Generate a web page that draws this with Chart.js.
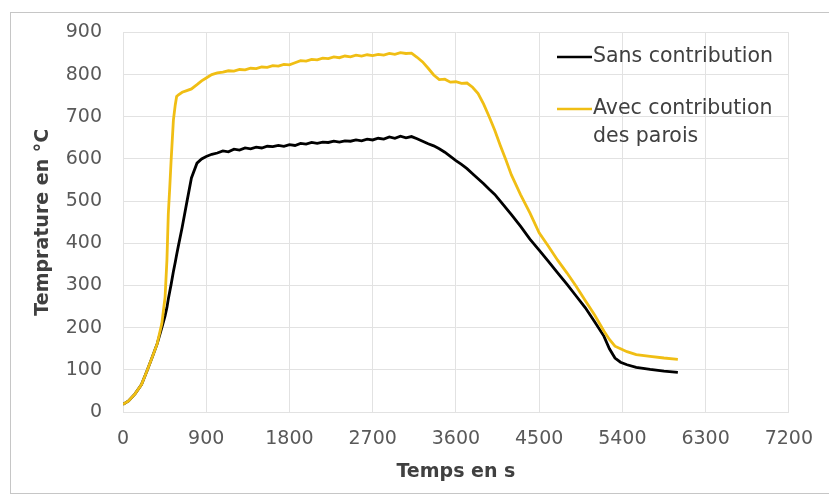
<!DOCTYPE html>
<html>
<head>
<meta charset="utf-8">
<script src="https://cdn.jsdelivr.net/npm/chart.js@4.4.1/dist/chart.umd.min.js"></script>
<style>
  html, body { margin: 0; padding: 0; background: #fff; }
  #wrap { position: relative; width: 829px; height: 497px; overflow: hidden; }
  #frame { position: absolute; left: 10px; top: 12px; width: 840px; height: 480px; border: 1px solid #c6c6c6; }
  #graph { position: absolute; left: 0; top: 0; }
</style>
</head>
<body>
<div id="wrap">
  <div id="frame"></div>
  <canvas id="graph" width="829" height="497"></canvas>
</div>
<script>
// time in s
const temps = [
  0, 60, 130, 200, 260, 320, 370, 420, 455, 475, 490, 505, 520, 545, 565, 580, 600, 640, 690, 740, 800, 850, 900,
  960, 1020, 1080, 1140, 1200, 1260, 1320, 1380, 1440, 1500, 1560, 1620, 1680, 1740, 1800,
  1860, 1920, 1980, 2040, 2100, 2160, 2220, 2280, 2340, 2400, 2460, 2520, 2580, 2640, 2700,
  2760, 2820, 2880, 2940, 3000, 3060, 3120, 3180, 3240, 3300, 3360, 3420, 3480, 3540, 3600,
  3660, 3720, 3780, 3840, 3900, 3960, 4020, 4080, 4140, 4200,
  4300, 4400, 4500, 4600, 4700, 4800, 4900, 5000, 5100, 5200,
  5260, 5320, 5380, 5450, 5550, 5700, 5850, 6000
];

// temperature in °C, without wall contribution
const sansContribution = [
  18, 26, 43, 65, 98, 132, 162, 200, 228, 248, 268, 285, 302, 333, 355, 373, 395, 438, 497, 555, 590, 600, 606,
  611, 614, 619, 617, 623, 621, 626, 624, 628, 626, 630, 629, 632, 630, 634,
  632, 637, 635, 639, 637, 640, 639, 642, 640, 643, 642, 645, 643, 647, 645,
  649, 647, 652, 649, 654, 650, 653, 648, 642, 636, 631, 624, 616, 606, 596,
  587, 577, 565, 553, 541, 528, 516, 500, 484, 468,
  440, 410, 384, 357, 330, 303, 275, 247, 214, 180,
  150, 128, 118, 112, 106, 101, 97, 94
];

// temperature in °C, with wall contribution
const avecContribution = [
  18, 26, 43, 65, 98, 132, 162, 210, 272, 360, 470, 530, 595, 692, 728, 748, 752, 758, 762, 766, 776, 785, 792,
  800, 804, 806, 809, 808, 812, 811, 815, 814, 818, 817, 821, 820, 824, 823,
  828, 833, 832, 836, 835, 839, 838, 842, 840, 844, 842, 846, 844, 847, 845,
  848, 846, 850, 848, 852, 850, 851, 841, 830, 815, 799, 788, 789, 782, 783,
  779, 780, 770, 755, 730, 700, 668, 632, 598, 562,
  515, 472, 425, 393, 360, 330, 298, 264, 230, 192,
  172, 156, 150, 143, 136, 132, 128, 125
];

const xTicks = [0, 900, 1800, 2700, 3600, 4500, 5400, 6300, 7200];
const yTicks = [0, 100, 200, 300, 400, 500, 600, 700, 800, 900];

const toPoints = vals => temps.map((t, i) => ({ x: t, y: vals[i] }));

const tickFont = { family: 'DejaVu Sans', size: 19 };
const titleFont = { family: 'DejaVu Sans', size: 19, weight: 'bold' };
const gridColor = '#e2e2e2';

// legend drawn inside the plot, labels may span several lines
const legendBox = {
  id: 'legendBox',
  afterDraw(chart, args, opts) {
    const ctx = chart.ctx;
    ctx.save();
    ctx.font = opts.font;
    ctx.textBaseline = 'middle';
    ctx.textAlign = 'left';
    ctx.fillStyle = opts.color;
    chart.data.datasets.forEach((ds, i) => {
      const y = opts.top + i * opts.itemGap;
      ctx.strokeStyle = ds.borderColor;
      ctx.lineWidth = 2.5;
      ctx.beginPath();
      ctx.moveTo(opts.left, y);
      ctx.lineTo(opts.left + opts.lineLen, y);
      ctx.stroke();
      [].concat(ds.label).forEach((line, k) => {
        ctx.fillText(line, opts.left + opts.lineLen + 1, y + k * opts.lineHeight);
      });
    });
    ctx.restore();
  }
};

const ctx = document.getElementById('graph').getContext('2d');

new Chart(ctx, {
  type: 'line',
  data: {
    datasets: [
      {
        label: 'Sans contribution',
        data: toPoints(sansContribution),
        borderColor: '#000000',
        borderWidth: 2.8,
        pointRadius: 0,
        tension: 0,
        order: 1
      },
      {
        label: ['Avec contribution', 'des parois'],
        data: toPoints(avecContribution),
        borderColor: '#f0be14',
        borderWidth: 2.8,
        pointRadius: 0,
        tension: 0,
        order: 0
      }
    ]
  },
  options: {
    responsive: false,
    animation: false,
    devicePixelRatio: 1,
    layout: { padding: { left: 0, right: 40, top: 32, bottom: 0 } },
    plugins: {
      legend: { display: false },
      tooltip: { enabled: false },
      legendBox: {
        left: 557, top: 57, itemGap: 52, lineLen: 35, lineHeight: 28,
        font: '20.5px "DejaVu Sans"', color: '#404040'
      }
    },
    scales: {
      x: {
        type: 'linear',
        min: 0,
        max: 7200,
        afterBuildTicks: s => { s.ticks = xTicks.map(v => ({ value: v })); },
        afterFit: s => { s.height = 85; },
        ticks: { font: tickFont, color: '#595959', padding: 16, maxRotation: 0, callback: v => String(v) },
        grid: { color: gridColor, drawTicks: false },
        border: { color: gridColor },
        title: { display: true, text: 'Temps en s', font: titleFont, color: '#404040', padding: { top: 0, bottom: 14 } }
      },
      y: {
        min: 0,
        max: 900,
        afterBuildTicks: s => { s.ticks = yTicks.map(v => ({ value: v })); },
        afterFit: s => { s.width = 123; },
        ticks: { font: tickFont, color: '#595959', padding: 21, callback: v => String(v) },
        grid: { color: gridColor, drawTicks: false },
        border: { color: gridColor },
        title: { display: true, text: 'Temprature en °C', font: titleFont, color: '#404040', padding: { top: 32, bottom: 0 } }
      }
    }
  },
  plugins: [legendBox]
});
</script>
</body>
</html>
